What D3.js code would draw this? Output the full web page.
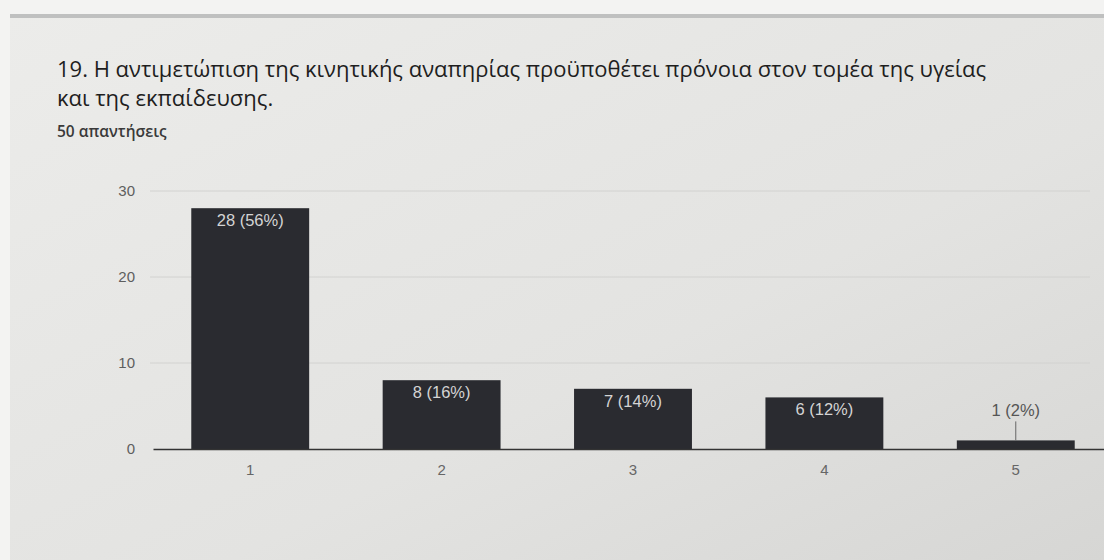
<!DOCTYPE html>
<html>
<head>
<meta charset="utf-8">
<script src="https://cdn.jsdelivr.net/npm/d3@7"></script>
<style>
    body { margin: 0; background: #f3f3f2; }
    svg { display: block; }
</style>
</head>
<body>
<script>
const categories = ["1", "2", "3", "4", "5"];
const counts = [28, 8, 7, 6, 1];
const percents = [56, 16, 14, 12, 2];
const yTicks = [0, 10, 20, 30];
const titleLines = [
    "19. Η αντιμετώπιση της κινητικής αναπηρίας προϋποθέτει πρόνοια στον τομέα της υγείας",
    "και της εκπαίδευσης."
];
const subtitle = "50 απαντήσεις";

const W = 1104, H = 560;
const margin = {left : 150, top : 191, right : 0, bottom : 111};
const width = W - margin.left - margin.right;
const height = H - margin.top - margin.bottom;

const svg = d3.select("body").append("svg")
    .attr('width', W)
    .attr('height', H);

// card background with a soft photo-like shading
const defs = svg.append("defs");
const grad = defs.append("linearGradient")
    .attr('id', 'card')
    .attr('x1', 0).attr('y1', 0).attr('x2', 1).attr('y2', 1);
grad.append("stop").attr('offset', '0%').attr('stop-color', '#ececea');
grad.append("stop").attr('offset', '60%').attr('stop-color', '#e3e3e1');
grad.append("stop").attr('offset', '100%').attr('stop-color', '#d6d6d4');

svg.append("rect")
    .attr('x', 10).attr('y', 14)
    .attr('width', W - 10).attr('height', H - 14)
    .attr('fill', 'url(#card)');

svg.append("rect")
    .attr('x', 10).attr('y', 14)
    .attr('width', W - 10).attr('height', 4)
    .attr('fill', '#bfc0c0');

// Title
svg.selectAll(".title").data(titleLines).enter().append("text")
    .attr('class', 'title')
    .attr('x', 57)
    .attr('y', (d, i) => 77 + i * 29)
    .attr('font-family', 'Open Sans, sans-serif')
    .attr('font-size', '22px')
    .attr('font-weight', 500)
    .attr('fill', '#1e1e1e')
    .text((d) => d);

svg.append("text")
    .attr('x', 57)
    .attr('y', 137)
    .attr('font-family', 'Open Sans, sans-serif')
    .attr('font-size', '15.5px')
    .attr('font-weight', 600)
    .attr('fill', '#3a3a3a')
    .text(subtitle);

const g = svg.append("g")
    .attr('transform', `translate(${margin.left}, ${margin.top})`);

// Scales
const y = d3.scaleLinear()
    .domain([0, 30])
    .range([height, 0]);

const x = d3.scaleBand()
    .domain(categories)
    .range([3, 963])
    .paddingInner(0.384)
    .paddingOuter(0.2);

// gridlines
g.append("g")
    .attr('class', 'grid')
    .selectAll("line").data(yTicks.filter((d) => d > 0)).enter().append("line")
        .attr('x1', 0)
        .attr('x2', width - 14)
        .attr('y1', (d) => y(d))
        .attr('y2', (d) => y(d))
        .attr('stroke', '#d2d2d0')
        .attr('stroke-width', 1);

// y axis labels
const yAxis = g.append("g")
    .attr('class', 'left axis')
    .call(d3.axisLeft(y).tickValues(yTicks).tickSize(0).tickPadding(15));
yAxis.select(".domain").remove();
yAxis.selectAll("text")
    .attr('font-family', 'Liberation Sans, Arial, sans-serif')
    .attr('font-size', '15px')
    .style('fill', '#5e5e5e');

// bars
g.selectAll("rect.bar").data(counts).enter().append("rect")
    .attr('class', 'bar')
    .attr('x', (d, i) => x(categories[i]))
    .attr('y', (d) => y(d))
    .attr('width', x.bandwidth())
    .attr('height', (d) => height - y(d))
    .attr('fill', '#2a2b30');

// x axis
const xAxis = g.append("g")
    .attr('class', 'bottom axis')
    .attr('transform', `translate(0, ${height})`)
    .call(d3.axisBottom(x).tickSize(0).tickPadding(15));
xAxis.select(".domain")
    .attr('stroke', '#333')
    .attr('stroke-width', 1.5);
xAxis.selectAll("text")
    .attr('font-family', 'Liberation Sans, Arial, sans-serif')
    .attr('font-size', '15px')
    .style('fill', '#666');

// value labels
const labelFits = (d) => (height - y(d)) > 22;
g.selectAll("text.value").data(counts).enter().append("text")
    .attr('class', 'value')
    .attr('x', (d, i) => x(categories[i]) + x.bandwidth() / 2)
    .attr('y', (d) => labelFits(d) ? y(d) + 18 : y(d) - 24)
    .attr('text-anchor', 'middle')
    .attr('font-family', 'Liberation Sans, Arial, sans-serif')
    .attr('font-size', '16.5px')
    .attr('fill', (d) => labelFits(d) ? '#d4d4d4' : '#555')
    .text((d, i) => `${d} (${percents[i]}%)`);

// leader line for the small bar label
g.selectAll("line.leader").data(counts.filter((d) => !labelFits(d))).enter().append("line")
    .attr('class', 'leader')
    .attr('x1', (d) => x(categories[counts.indexOf(d)]) + x.bandwidth() / 2)
    .attr('x2', (d) => x(categories[counts.indexOf(d)]) + x.bandwidth() / 2)
    .attr('y1', (d) => y(d) - 19)
    .attr('y2', (d) => y(d))
    .attr('stroke', '#666')
    .attr('stroke-width', 1);
</script>
</body>
</html>
